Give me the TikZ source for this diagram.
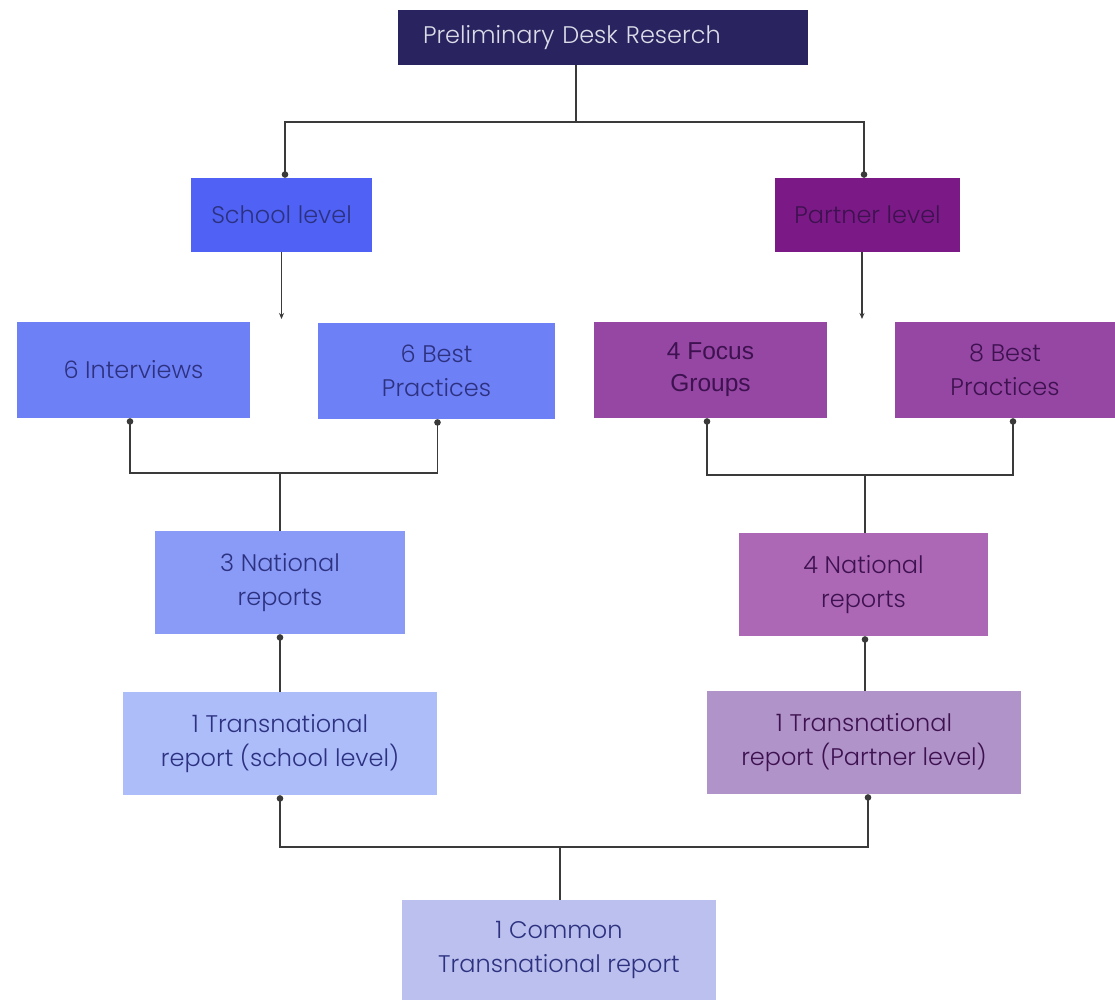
\documentclass[tikz,border=0pt]{standalone}
\usepackage{fontspec}
\IfFontExistsTF{Poppins Light}{\setmainfont{Poppins Light}}{\setmainfont{Poppins}}
\newfontfamily\arialfont{Liberation Sans}
\usetikzlibrary{arrows.meta,calc}
\definecolor{ctop}{HTML}{29235F}
\definecolor{cschool}{HTML}{4F62F5}
\definecolor{cpartner}{HTML}{7B1A86}
\definecolor{cblueA}{HTML}{6E80F6}
\definecolor{cpurpA}{HTML}{9647A3}
\definecolor{cblueB}{HTML}{8A9BF7}
\definecolor{cpurpB}{HTML}{AD68B5}
\definecolor{cblueC}{HTML}{ADBDFA}
\definecolor{cpurpC}{HTML}{B093C8}
\definecolor{ccommon}{HTML}{BCC0EE}
\definecolor{tblue}{HTML}{2C3180}
\definecolor{tpurp}{HTML}{3E1150}
\definecolor{tlight}{HTML}{DCDCE8}
\definecolor{cline}{HTML}{3A3A3A}
\begin{document}
\begin{tikzpicture}[x=1pt,y=-1pt,
  box/.style={rectangle, inner sep=0pt, align=center, font=\fontsize{24}{34}\selectfont},
  conn/.style={draw=cline, line width=1.2pt},
  dotend/.style={-{Circle[length=6.5pt]}},
  dotstart/.style={{Circle[length=6.5pt]}-},
  dotboth/.style={{Circle[length=6.5pt]}-{Circle[length=6.5pt]}},
  arrend/.style={-{Stealth[length=6pt,width=5pt]}}]
\useasboundingbox (0,0) rectangle (1115,1000);
\fill[white] (0,0) rectangle (1115,1000);

\node[box, fill=ctop, text=tlight, minimum width=410pt, minimum height=55pt, text width=360pt, inner xsep=25pt, align=left] (top) at (603,37.5) {Preliminary Desk Reserch};
\node[box, fill=cschool, text=tblue, minimum width=181pt, minimum height=74pt] (school) at (281.5,215) {School level};
\node[box, fill=cpartner, text=tpurp, minimum width=185pt, minimum height=74pt] (partner) at (867.5,215) {Partner level};

\node[box, fill=cblueA, text=tblue, minimum width=233pt, minimum height=96pt] (int) at (133.5,370) {6 Interviews};
\node[box, fill=cblueA, text=tblue, minimum width=237pt, minimum height=96pt] (bps) at (436.5,371) {6 Best\\Practices};
\node[box, fill=cpurpA, text=tpurp, minimum width=233pt, minimum height=96pt, font=\arialfont\fontsize{24.5}{32}\selectfont] (fg) at (710.5,370) {4 Focus\\Groups};
\node[box, fill=cpurpA, text=tpurp, minimum width=220pt, minimum height=96pt] (bpp) at (1005,370) {8 Best\\Practices};

\node[box, fill=cblueB, text=tblue, minimum width=250pt, minimum height=103pt] (nats) at (280,582.5) {3 National\\reports};
\node[box, fill=cpurpB, text=tpurp, minimum width=249pt, minimum height=103pt] (natp) at (863.5,584.5) {4 National\\reports};

\node[box, fill=cblueC, text=tblue, minimum width=314pt, minimum height=103pt] (ts) at (280,743.5) {1 Transnational\\report (school level)};
\node[box, fill=cpurpC, text=tpurp, minimum width=314pt, minimum height=103pt] (tp) at (864,742.5) {1 Transnational\\report (Partner level)};

\node[box, fill=ccommon, text=tblue, minimum width=314pt, minimum height=100pt] (common) at (559,950) {1 Common\\Transnational report};

% top split
\coordinate (j1) at (576,122);
\draw[conn] (top.south -| j1) -- (j1);
\draw[conn,dotend] (j1) -| ($(school.north)+(3.5,0)$);
\draw[conn,dotend] (j1) -| ($(partner.north)+(-3.5,0)$);

% level arrows to free ends
\coordinate (sa) at (281.5,319);
\coordinate (pa) at (862,319);
\draw[conn,arrend] (school.south -| sa) -- (sa);
\draw[conn,arrend] (partner.south -| pa) -- (pa);

% school branch merge
\coordinate (j2) at (280,473);
\draw[conn,dotboth] ($(int.south)+(-3.5,0)$) |- (j2) -| ($(bps.south)+(1,0)$);
\draw[conn] (j2) -- (nats.north);

% partner branch merge
\coordinate (j3) at (865,475);
\draw[conn,dotboth] ($(fg.south)+(-3.5,0)$) |- (j3) -| ($(bpp.south)+(8,0)$);
\draw[conn] (j3) -- (natp.north -| j3);

% national to transnational
\draw[conn,dotstart] (nats.south) -- (ts.north);
\draw[conn,dotstart] (natp.south -| j3) -- (tp.north -| j3);

% bottom merge
\coordinate (j4) at (560,847);
\draw[conn,dotboth] (ts.south) |- (j4) -| ($(tp.south)+(4,0)$);
\draw[conn] (j4) -- (common.north -| j4);
\end{tikzpicture}
\end{document}
